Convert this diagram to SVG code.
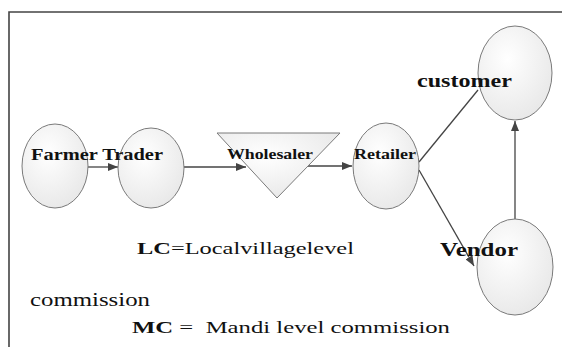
<svg xmlns="http://www.w3.org/2000/svg" width="562" height="347" viewBox="0 0 562 347">
<style>
.node{fill:url(#g);stroke:#7a7a7a;stroke-width:1}
.lbl{font-family:"Liberation Serif","Times New Roman",serif;font-weight:bold;fill:#111}
.txt{font-family:"Liberation Serif","Times New Roman",serif;fill:#111}
.conn{fill:none;stroke:#444;stroke-width:1.3}
.frame{fill:none;stroke:#444;stroke-width:1.6}
</style>
<defs>
<radialGradient id="g" cx="0.4" cy="0.35" r="0.75">
<stop offset="0" stop-color="#ffffff"/>
<stop offset="1" stop-color="#e6e6e6"/>
</radialGradient>
<marker id="arr" markerWidth="10" markerHeight="8" refX="10" refY="4" orient="auto" markerUnits="userSpaceOnUse">
<path d="M0,0 L10,4 L0,8 z" fill="#444"/>
</marker>
</defs>
<rect width="562" height="347" fill="#fff"/>
<path class="frame" d="M9,347 L9,12 L562,12"/>
<g id="connectors">
<path class="conn" d="M88,167 L118,167" marker-end="url(#arr)"/>
<path class="conn" d="M184,167 L246,167" marker-end="url(#arr)"/>
<path class="conn" d="M307,166 L352,166" marker-end="url(#arr)"/>
<path class="conn" d="M419,162 L478,90"/>
<path class="conn" d="M419,170 L474,266" marker-end="url(#arr)"/>
<path class="conn" d="M515,220 L515,121" marker-end="url(#arr)"/>
</g>
<g id="farmer"><ellipse class="node" cx="55" cy="166" rx="33" ry="42"/></g>
<g id="trader"><ellipse class="node" cx="151" cy="168" rx="33" ry="40"/></g>
<g id="wholesaler"><polygon class="node" points="217,133 340,133 277,198"/>
<text class="lbl" x="227" y="159" font-size="14" textLength="86" lengthAdjust="spacingAndGlyphs">Wholesaler</text></g>
<g id="retailer"><ellipse class="node" cx="386" cy="166" rx="33" ry="43"/>
<text class="lbl" x="354" y="159" font-size="14" textLength="62" lengthAdjust="spacingAndGlyphs">Retailer</text></g>
<g id="customer"><ellipse class="node" cx="515" cy="73" rx="37" ry="47"/>
<text class="lbl" x="417" y="87" font-size="19" textLength="95" lengthAdjust="spacingAndGlyphs">customer</text></g>
<g id="vendor"><ellipse class="node" cx="515" cy="267" rx="38" ry="48"/>
<text class="lbl" x="440" y="256" font-size="19" textLength="78" lengthAdjust="spacingAndGlyphs">Vendor</text></g>
<text class="lbl" x="31" y="160" font-size="17" textLength="132" lengthAdjust="spacingAndGlyphs">Farmer Trader</text>
<g id="legend">
<text class="txt" x="137" y="254" font-size="17" textLength="217" lengthAdjust="spacingAndGlyphs"><tspan font-weight="bold">LC</tspan>=Localvillagelevel</text>
<text class="txt" x="30" y="306" font-size="18" textLength="120" lengthAdjust="spacingAndGlyphs">commission</text>
<text class="txt" x="132" y="333" font-size="17" textLength="318" lengthAdjust="spacingAndGlyphs" xml:space="preserve"><tspan font-weight="bold">MC</tspan> =  Mandi level commission</text>
</g>
</svg>
